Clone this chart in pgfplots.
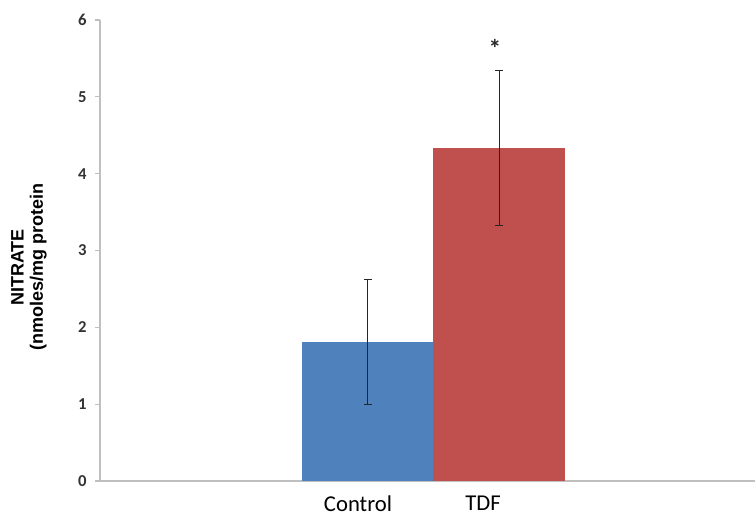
\documentclass[border=0pt]{standalone}
\usepackage{fontspec}
\setmainfont{Carlito}
\newfontfamily\arialfont{Liberation Sans}
\usepackage{pgfplots}
\pgfplotsset{compat=1.18}
\definecolor{ctrlblue}{HTML}{4F81BD}
\definecolor{tdfred}{HTML}{C0504D}
\definecolor{axgray}{HTML}{BFBFBF}
\begin{document}
\begin{tikzpicture}
\path[use as bounding box] (-75pt,-26.25pt) rectangle (491.25pt,360.75pt);
\begin{axis}[
  at={(0,0)}, anchor=south west,
  scale only axis, width=491.25pt, height=345.75pt,
  xmin=100, xmax=755, ymin=0, ymax=6,
  axis lines*=left,
  axis line style={axgray, line width=0.8pt},
  ytick={0,1,2,3,4,5,6},
  ytick style={axgray, line width=0.8pt},
  tick align=outside, major tick length=3.5pt,
  yticklabel style={font=\fontsize{12.5}{14}\selectfont\bfseries, color=black!80, xshift=-3pt},
  /pgf/number format/assume math mode=true,
  xtick={358,483}, xticklabels={Control,TDF},
  x tick style={draw=none},
  xticklabel style={font=\fontsize{17}{20}\selectfont, color=black, yshift=-4pt},
  clip=false,
]
\addplot[ybar, bar shift=0pt, bar width=131, fill=ctrlblue, draw=none,
  error bars/.cd, y dir=both, y explicit,
  error bar style={black!85, line width=0.7pt},
  error mark options={rotate=90, mark size=3pt, black!85, line width=0.7pt}]
  coordinates {(367.5,1.81) +- (0,0.81)};
\addplot[ybar, bar shift=0pt, bar width=132, fill=tdfred, draw=none,
  error bars/.cd, y dir=both, y explicit,
  error bar style={black!85, line width=0.7pt},
  error mark options={rotate=90, mark size=3pt, black!85, line width=0.7pt}]
  coordinates {(499,4.33) +- (0,1.01)};
\node[font=\fontsize{19}{20}\selectfont\bfseries, color=black!85] at (axis cs:495,5.63) {*};
\node[rotate=90, align=center, font=\arialfont\fontsize{13.5}{14.5}\selectfont\bfseries]
  at (axis cs:29,2.78) {NITRATE\\(nmoles/mg protein};
\end{axis}
\end{tikzpicture}
\end{document}
